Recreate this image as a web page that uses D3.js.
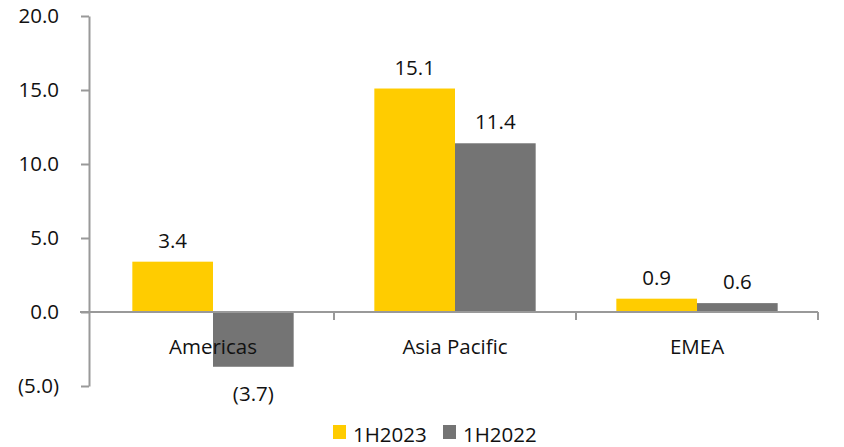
<!DOCTYPE html>
<html>
<head>
<meta charset="utf-8">
<script src="https://cdn.jsdelivr.net/npm/d3@7"></script>
<style>
  body { margin: 0; background: #fff; }
  svg text { font-family: "Open Sans", "Noto Sans", sans-serif; fill: #111; }
</style>
</head>
<body>
<div class="container"></div>
<script>
const categories = ["Americas", "Asia Pacific", "EMEA"];
const seriesNames = ["1H2023", "1H2022"];
const values2023 = [3.4, 15.1, 0.9];
const values2022 = [-3.7, 11.4, 0.6];
const yTicks = [-5, 0, 5, 10, 15, 20];
const colors = ["#FFCC00", "#747474"];

const w = 844;
const h = 447;
const axisColor = "#999999";
const fontSize = 20.5;

const fmt = v => v < 0 ? `(${d3.format(".1f")(-v)})` : d3.format(".1f")(v);

const svg = d3.select(".container")
  .append("svg")
  .attr("width", w)
  .attr("height", h);

const yScale = d3.scaleLinear()
  .domain([-5, 20])
  .range([386, 16]);

const xScale = d3.scaleBand()
  .domain(categories)
  .range([92, 818]);

const xInner = d3.scaleBand()
  .domain(seriesNames)
  .range([0, xScale.bandwidth()])
  .paddingOuter(0.5);

const rows = categories.map((c, i) => ({
  cat: c,
  vals: [values2023[i], values2022[i]]
}));

// y axis
const yAxis = d3.axisLeft(yScale)
  .tickValues(yTicks)
  .tickSize(8)
  .tickSizeOuter(0)
  .tickPadding(22)
  .tickFormat(fmt);

const gy = svg.append("g")
  .attr("transform", "translate(89,0)")
  .call(yAxis);
gy.select(".domain").attr("stroke", axisColor).attr("stroke-width", 2);
gy.selectAll(".tick line").attr("stroke", axisColor).attr("stroke-width", 2);
gy.selectAll(".tick text")
  .attr("font-size", fontSize)
  .attr("fill", "#111")
  .style("font-family", "'Open Sans', sans-serif");

// bars
const groups = svg.selectAll(".grp")
  .data(rows)
  .enter()
  .append("g")
  .attr("class", "grp")
  .attr("transform", d => `translate(${xScale(d.cat)},0)`);

groups.selectAll("rect")
  .data(d => d.vals.map((v, j) => ({ v, s: seriesNames[j], j })))
  .enter()
  .append("rect")
  .attr("x", d => xInner(d.s))
  .attr("width", xInner.bandwidth())
  .attr("y", d => yScale(Math.max(0, d.v)))
  .attr("height", d => Math.abs(yScale(d.v) - yScale(0)))
  .attr("fill", d => colors[d.j]);

groups.selectAll(".val")
  .data(d => d.vals.map((v, j) => ({ v, s: seriesNames[j], j })))
  .enter()
  .append("text")
  .attr("class", "val")
  .attr("x", d => xInner(d.s) + xInner.bandwidth() / 2)
  .attr("y", d => d.v >= 0 ? yScale(d.v) - 14 : yScale(d.v) + 34)
  .attr("text-anchor", "middle")
  .attr("font-size", fontSize)
  .text(d => fmt(d.v));

// x axis line at zero
const y0 = yScale(0);
svg.append("line")
  .attr("x1", 80)
  .attr("x2", xScale.range()[1])
  .attr("y1", y0)
  .attr("y2", y0)
  .attr("stroke", axisColor)
  .attr("stroke-width", 2);

svg.selectAll(".xtick")
  .data(categories)
  .enter()
  .append("line")
  .attr("class", "xtick")
  .attr("x1", d => xScale(d) + xScale.step())
  .attr("x2", d => xScale(d) + xScale.step())
  .attr("y1", y0)
  .attr("y2", y0 + 8)
  .attr("stroke", axisColor)
  .attr("stroke-width", 2);

svg.selectAll(".xlab")
  .data(categories)
  .enter()
  .append("text")
  .attr("class", "xlab")
  .attr("x", d => xScale(d) + xScale.bandwidth() / 2)
  .attr("y", 354)
  .attr("text-anchor", "middle")
  .attr("font-size", fontSize)
  .text(d => d);

// legend
const legend = svg.append("g").attr("transform", "translate(333,425)");
const legendX = [0, 110];
seriesNames.forEach((s, i) => {
  legend.append("rect")
    .attr("x", legendX[i])
    .attr("y", 0)
    .attr("width", 13)
    .attr("height", 14)
    .attr("fill", colors[i]);
  legend.append("text")
    .attr("x", legendX[i] + 20)
    .attr("y", 17)
    .attr("font-size", fontSize)
    .text(s);
});
</script>
</body>
</html>
